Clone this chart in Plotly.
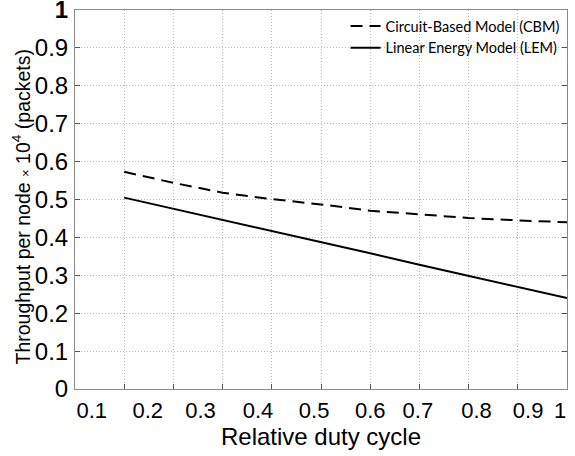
import plotly.graph_objects as go

# Data (relative duty cycle positions along the grid, throughput x 10^4 packets)
duty = [0.1, 0.2, 0.3, 0.4, 0.5, 0.6, 0.7, 0.8, 0.9, 1.0]
cbm = [0.573, 0.544, 0.518, 0.501, 0.487, 0.4705, 0.461, 0.451, 0.445, 0.440]
lem = [0.505, 0.476, 0.446, 0.417, 0.387, 0.358, 0.328, 0.299, 0.269, 0.240]

x_tick_labels = ["0.1", "0.2", "0.3", "0.4", "0.5", "0.6", "0.7", "0.8", "0.9", "1"]
y_tick_vals = [0, 0.1, 0.2, 0.3, 0.4, 0.5, 0.6, 0.7, 0.8, 0.9, 1.0]
y_tick_labels = ["0", "0.1", "0.2", "0.3", "0.4", "0.5", "0.6", "0.7", "0.8", "0.9", "<b>1</b>"]
# where the (misaligned) x tick labels sit along the axis, layout only
x_label_pos = [0.034, 0.148, 0.255, 0.372, 0.486, 0.600, 0.697, 0.816, 0.921, 0.986]
grid_pos = [0.1, 0.2, 0.3, 0.4, 0.5, 0.6, 0.7, 0.8, 0.9]

fig = go.Figure()
fig.add_trace(go.Scatter(x=duty, y=cbm, mode="lines", name="Circuit-Based Model (CBM)",
                         line=dict(color="black", width=2, dash="12px,7px")))
fig.add_trace(go.Scatter(x=duty, y=lem, mode="lines", name="Linear Energy Model (LEM)",
                         line=dict(color="black", width=2)))

axis_font = dict(family="Liberation Sans, Arial, sans-serif", color="black")
grid_col = "#b8b8b8"

fig.update_layout(
    width=575, height=456,
    margin=dict(l=75, r=8, t=10, b=67, autoexpand=False),
    paper_bgcolor="white", plot_bgcolor="white",
    showlegend=True,
    legend=dict(x=0.995, y=1.0, xanchor="right", yanchor="top",
                bgcolor="rgba(0,0,0,0)", borderwidth=0,
                font=dict(family="Lato, Open Sans, sans-serif", size=14.5, color="black"),
                tracegroupgap=0),
    xaxis=dict(range=[0, 1], tickmode="array", tickvals=x_label_pos, ticktext=x_tick_labels,
               ticks="", showgrid=False, zeroline=False, automargin=False,
               showline=True, linecolor="#8a8a8a", linewidth=1, mirror=True,
               tickfont=dict(size=22, **axis_font), ticklabelstandoff=2,
               ticklabeloverflow="allow",
               minor=dict(tickmode="array", tickvals=grid_pos, ticks="inside", ticklen=5,
                          tickcolor="#555555", showgrid=True, gridcolor=grid_col,
                          gridwidth=1, griddash="1px,2px"),
               title=dict(text="Relative duty cycle", font=dict(size=24, **axis_font), standoff=0)),
    yaxis=dict(range=[0, 1], tickmode="array", tickvals=y_tick_vals, ticktext=y_tick_labels,
               ticks="inside", ticklen=5, tickcolor="#555555",
               showgrid=True, gridcolor=grid_col, gridwidth=1, griddash="1px,2px",
               zeroline=False, showline=True, linecolor="#8a8a8a", linewidth=1, mirror="ticks",
               automargin=False, ticklabeloverflow="allow",
               tickfont=dict(size=24, **axis_font), ticklabelstandoff=1),
    annotations=[dict(
        text="Throughput per node <span style='font-size:13px'>×</span> 10<sup>4</sup> (packets)",
        xref="paper", yref="paper", x=-0.1098, y=0.4815, xanchor="center", yanchor="middle",
        textangle=-90, showarrow=False, font=dict(size=19.5, **axis_font))],
)

fig.write_html("out.html", config={"displayModeBar": False},
               post_script="document.body.style.margin='0';")
